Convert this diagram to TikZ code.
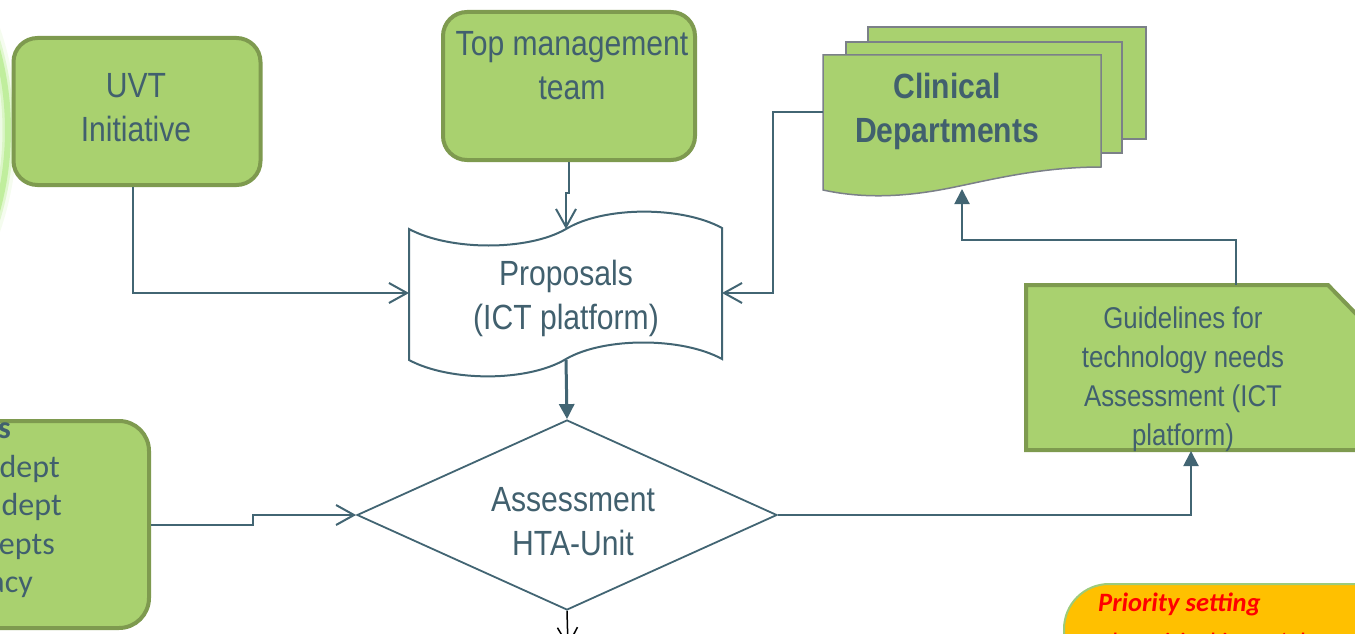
\documentclass[tikz,border=0pt]{standalone}
\usepackage{fontspec}
\usetikzlibrary{arrows.meta,shapes.geometric}
\setmainfont{Liberation Sans}
\newfontfamily\narrowsans[FakeStretch=0.86]{Liberation Sans}
\newfontfamily\calibrilike{Carlito}

\definecolor{txtc}{HTML}{41606E}
\definecolor{linec}{HTML}{426573}
\definecolor{gfill}{HTML}{A9D16F}
\definecolor{gborder}{HTML}{7E9A4F}
\definecolor{pageborder}{HTML}{7B8088}
\definecolor{prioorange}{HTML}{FFC000}
\definecolor{prioborder}{HTML}{9DCB7A}
\definecolor{glowgreen}{HTML}{B9EC92}

\begin{document}
\begin{tikzpicture}[x=1pt,y=-1pt,
  greenbox/.style={draw=gborder, fill=gfill, line width=4pt, rounded corners=24pt, inner sep=0pt},
  boxtext/.style={text=txtc, font=\narrowsans\fontsize{35}{44}\selectfont, align=center, inner sep=0pt},
  smalltext/.style={text=txtc, font=\narrowsans\fontsize{30}{39}\selectfont, align=center, inner sep=0pt},
  sidetext/.style={text=txtc, font=\calibrilike\fontsize{32}{38}\selectfont, inner sep=0pt, anchor=base east},
  pagebox/.style={draw=pageborder, fill=gfill, line width=1.5pt},
  link/.style={draw=linec, line width=2pt},
  openarrow/.style={-{Straight Barb[length=18pt,width=20pt]}},
  solidarrow/.style={-{Triangle[length=15pt,width=15pt]}},
]
\useasboundingbox (0,0) rectangle (1355,634);
\clip (0,0) rectangle (1355,634);

% soft green ring at the left border
\fill[glowgreen, opacity=0.12] (-295,130) circle[radius=305];
\draw[glowgreen, line width=18pt, opacity=0.15] (-295,130) circle[radius=303];
\draw[glowgreen, line width=11pt, opacity=0.35] (-295,130) circle[radius=303];
\draw[glowgreen, line width=6pt, opacity=0.8] (-295,130) circle[radius=303];

% UVT initiative
\node (uvt) [greenbox, minimum width=247pt, minimum height=147pt] at (137,111.5) {};
\node (uvttext) [boxtext] at (136,108) {UVT\\Initiative};

% top management
\node (top) [greenbox, minimum width=252pt, minimum height=148pt] at (569,86) {};
\node (toptext) [boxtext] at (572,66) {Top management\\team};

% clinical departments (stack of documents)
\draw[pagebox] (868,27) rectangle (1146,139);
\draw[pagebox] (846,42) rectangle (1122,153);
\draw[pagebox] (823,55) -- (1101,55) -- (1101,167)
  .. controls (1040,167) and (990,180) .. (950,188)
  .. controls (900,198) and (860,198) .. (823,190) -- cycle;
\coordinate (clinW) at (823,112);
\coordinate (clinS) at (962,189);
\node (clin) [boxtext, font=\narrowsans\bfseries\fontsize{35}{44}\selectfont] at (947,111) {Clinical\\Departments};

% proposals (punched tape)
\draw[draw=linec, fill=white, line width=2pt]
  (409,229) .. controls (450,251) and (528,251) .. (566,229)
  .. controls (604,206) and (682,206) .. (722,228)
  -- (722,359)
  .. controls (682,337) and (604,337) .. (566,359)
  .. controls (528,382) and (450,382) .. (409,360) -- cycle;
\coordinate (propN) at (566,229);
\coordinate (propS) at (566,360);
\coordinate (propW) at (409,293);
\coordinate (propE) at (722,293);
\node (prop) [boxtext] at (566,298) {Proposals\\(ICT platform)};

% assessment decision
\node (hta) [diamond, draw=linec, line width=1.8pt, fill=white, minimum width=420pt, minimum height=190pt, inner sep=0pt] at (567,515) {};
\node (htatext) [boxtext] at (573,522) {Assessment\\HTA-Unit};

% guidelines (snipped corner)
\draw[draw=gborder, fill=gfill, line width=4pt, line join=miter]
  (1026,285) -- (1328,285) -- (1362,320) -- (1362,450) -- (1026,450) -- cycle;
\coordinate (guidN) at (1236,285);
\coordinate (guidS) at (1191,451);
\node (guid) [smalltext] at (1183,379) {Guidelines for\\technology needs\\Assessment (ICT\\platform)};

% list box on the left
\node (leftbox) [greenbox, rounded corners=30pt, minimum width=400pt, minimum height=207pt] at (-51,524.5) {};
\node (lhead) [sidetext, font=\calibrilike\bfseries\fontsize{32}{38}\selectfont] at (11,438) {s};
\node (l1) [sidetext] at (60,477) {dept};
\node (l2) [sidetext] at (62,515) {dept};
\node (l3) [sidetext] at (55,554) {epts};
\node (l4) [sidetext] at (33,592) {acy};

% priority setting box
\node (prio) [draw=prioborder, fill=prioorange, line width=2pt, rounded corners=45pt, minimum width=480pt, minimum height=240pt, anchor=north west] at (1063,583) {};
\node (priohead) [anchor=base west, inner sep=0pt, text=red, font=\calibrilike\bfseries\itshape\fontsize{26.5}{30}\selectfont] at (1098,611) {Priority setting};
\node (priotext) [anchor=base west, inner sep=0pt, text=red, font=\calibrilike\itshape\fontsize{26.5}{30}\selectfont] at (1098,651) {The critical issue/ the};

% connectors
\draw[link, openarrow] ([xshift=-4pt]uvt.south) |- (propW);
\draw[link, openarrow] (top.south) -- ++(0,31) -- ++(-3,0) -- (propN);
\draw[link, openarrow] (clinW) -- ++(-50,0) |- (propE);
\draw[link, line width=3pt, solidarrow] (propS) -- (hta.north);
\draw[link, openarrow] (leftbox.east) -- ++(102,0) |- (hta.west);
\draw[link, solidarrow] (hta.east) -| (guidS);
\draw[link, solidarrow] (guidN) -- ++(0,-45) -| (clinS);
\coordinate (exitS) at (568,647);
\draw[black, line width=1.5pt, openarrow] (hta.south) -- (exitS);
\end{tikzpicture}
\end{document}
